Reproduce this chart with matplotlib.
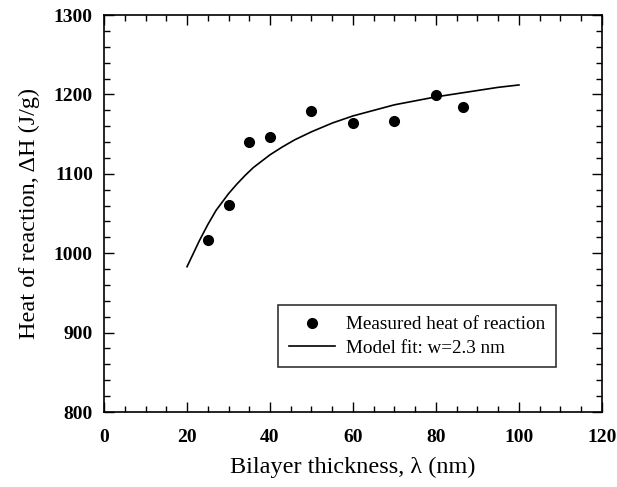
import matplotlib
matplotlib.use("Agg")
import matplotlib.pyplot as plt
from matplotlib.ticker import MultipleLocator

plt.rcParams["font.family"] = ["Liberation Serif", "DejaVu Serif"]

# measured points: bilayer thickness (nm), heat of reaction (J/g)
meas_x = [25, 30, 35, 40, 50, 60, 70, 80, 86.5]
meas_y = [1017, 1061, 1140, 1147, 1179, 1164, 1166, 1199, 1184]

# model fit curve (w = 2.3 nm)
fit_x = [20, 21, 22, 23, 24, 25, 26, 27, 28, 30, 32, 34, 36, 38, 40,
         43, 46, 50, 55, 60, 65, 70, 75, 80, 85, 90, 95, 100]
fit_y = [983, 994, 1005, 1016, 1026, 1036, 1045, 1054, 1061, 1075, 1087, 1098, 1108, 1116, 1124,
         1134, 1143, 1153, 1164, 1173, 1180, 1187, 1192, 1197, 1201, 1205, 1209, 1212]

fig = plt.figure(figsize=(6.17, 4.87), dpi=100)
ax = fig.add_axes([0.1686, 0.154, 0.807, 0.815])

ax.plot(meas_x, meas_y, "o", color="black", markersize=7, label="Measured heat of reaction")
ax.plot(fit_x, fit_y, "-", color="black", linewidth=1.2, label="Model fit: w=2.3 nm")

ax.set_xlim(0, 120)
ax.set_ylim(800, 1300)
ax.xaxis.set_major_locator(MultipleLocator(20))
ax.xaxis.set_minor_locator(MultipleLocator(5))
ax.yaxis.set_major_locator(MultipleLocator(100))
ax.yaxis.set_minor_locator(MultipleLocator(20))
ax.tick_params(which="both", direction="in", top=True, right=True, width=1)
ax.tick_params(which="major", length=7, labelsize=14)
ax.tick_params(axis="x", which="major", pad=12)
ax.tick_params(axis="y", which="major", pad=8)
ax.tick_params(which="minor", length=4)
for lab in ax.get_xticklabels() + ax.get_yticklabels():
    lab.set_fontweight("bold")
for s in ax.spines.values():
    s.set_linewidth(1.2)

ax.set_xlabel("Bilayer thickness, λ (nm)", fontsize=17.5, labelpad=8)
ax.set_ylabel("Heat of reaction, ΔH (J/g)", fontsize=17.5, labelpad=10)

leg = ax.legend(loc="lower right", bbox_to_anchor=(0.908, 0.113), borderaxespad=0,
                fontsize=13.8, frameon=True, fancybox=False, edgecolor="black",
                handlelength=2.4, handletextpad=0.6, borderpad=0.55, labelspacing=0.3)
leg.get_frame().set_linewidth(1.2)

fig.savefig("out.png", dpi=100)
